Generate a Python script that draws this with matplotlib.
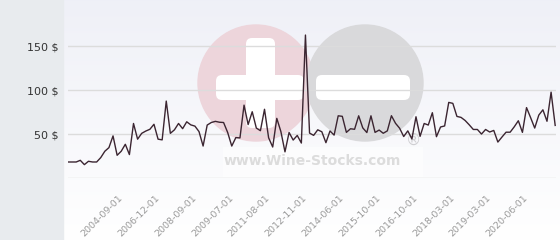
import numpy as np
import matplotlib
matplotlib.use("Agg")
import matplotlib.pyplot as plt
from matplotlib.patches import Circle, FancyBboxPatch, Rectangle

# prix moyen par date
prices = [
    18.5, 18.5, 18.5, 20.4, 15.5, 19.3, 18.5, 18.5, 23.5, 30.7,
    34.8, 48.1, 26.1, 30.7, 38.6, 26.9, 62.2, 44.4, 51.0, 53.6,
    55.6, 61.3, 44.4, 43.6, 87.6, 51.0, 55.0, 62.2, 56.3, 64.1,
    60.6, 59.2, 53.0, 36.6, 60.4, 63.3, 64.6, 63.6, 63.3, 52.0,
    36.6, 46.2, 45.8, 83.0, 61.0, 75.5, 57.0, 54.0, 78.3, 46.0,
    35.5, 68.0, 53.0, 30.0, 52.0, 43.4, 48.6, 40.0, 162.5, 51.3,
    48.7, 55.0, 52.8, 40.4, 53.7, 49.0, 70.9, 70.3, 52.1, 56.2,
    55.6, 70.9, 57.2, 51.9, 70.9, 52.1, 54.7, 51.1, 53.8, 71.0,
    62.4, 56.8, 47.4, 53.8, 44.6, 69.8, 47.6, 62.2, 60.4, 74.4,
    47.2, 58.2, 59.4, 86.1, 85.0, 70.2, 69.1, 65.6, 60.7, 55.4,
    55.4, 50.2, 55.4, 52.5, 54.3, 41.1, 46.8, 52.3, 52.3, 58.4,
    65.3, 52.1, 80.2, 68.8, 57.0, 71.7, 77.7, 64.7, 97.7, 60.0,
]
tick_idx = [13, 22, 31, 40, 49, 58, 67, 76, 85, 94, 103, 112]
tick_dates = ["2004-09-01", "2006-12-01", "2008-09-01", "2009-07-01",
              "2011-08-01", "2012-11-01", "2014-06-01", "2015-10-01",
              "2016-10-01", "2018-03-01", "2019-03-01", "2020-06-01"]
y_ticks = [0, 50, 100, 150]
y_labels = ["", "50 $", "100 $", "150 $"]

W, H = 560, 240
fig = plt.figure(figsize=(W / 100, H / 100), dpi=100)

# fond : panneau gris à gauche, dégradé à droite, filigrane
bg = fig.add_axes([0, 0, 1, 1], zorder=0)
bg.set_xlim(0, W)
bg.set_ylim(H, 0)
bg.axis("off")
grad = np.linspace(0, 1, 256)[:, None]
top = np.array([0.937, 0.941, 0.969])
bot = np.array([1.0, 1.0, 1.0])
img = top + (bot - top) * grad[..., None]
bg.imshow(img, extent=[64, W, H, 0], aspect="auto", zorder=0)
bg.add_patch(Rectangle((0, 0), 63, H, color="#e8ebee", zorder=1))

bg.add_patch(Circle((256, 83), 58, color="#edd5db", zorder=2))
bg.add_patch(Circle((365, 83), 58, color="#d9d9db", zorder=2))
bg.add_patch(FancyBboxPatch((252, 44), 17, 78, boxstyle="round,pad=6",
                            color="white", lw=0, zorder=3))
bg.add_patch(FancyBboxPatch((222, 81), 76, 13, boxstyle="round,pad=6",
                            color="white", lw=0, zorder=3))
bg.add_patch(FancyBboxPatch((322, 81), 82, 13, boxstyle="round,pad=6",
                            color="white", lw=0, zorder=3))
bg.add_patch(Rectangle((223, 147), 200, 30, color="white", alpha=0.5,
                       lw=0, zorder=3))
bg.text(312, 161, "www.Wine-Stocks.com", ha="center", va="center",
        fontsize=10, fontweight="bold", color="#dcdcdc", zorder=4)
bg.text(413, 140, "®", ha="center", va="center", fontsize=11,
        color="#cfcfd2", zorder=4)

# courbe
ax = fig.add_axes([68 / W, 1 - 178.3 / H, (556 - 68) / W, (178.3 - 2) / H],
                  zorder=1)
ax.patch.set_alpha(0)
x = np.arange(len(prices))
ax.plot(x, prices, color="#3b2531", lw=1.0, zorder=3)
ax.set_xlim(0, 119.2)
ax.set_ylim(0, 200)
ax.set_yticks(y_ticks)
ax.set_yticklabels(y_labels, fontsize=8, color="#333333")
ax.set_xticks(tick_idx)
ax.set_xticklabels(tick_dates, rotation=45, ha="right", va="center",
                   rotation_mode="anchor", fontsize=6.8, color="#9a9a9a")
ax.tick_params(axis="x", length=0, pad=13)
ax.tick_params(axis="y", length=0, pad=6.5)
ax.grid(axis="y", color="#dcdcdc", lw=1)
ax.set_axisbelow(True)
for s in ax.spines.values():
    s.set_visible(False)

fig.savefig("out.png", dpi=100)
